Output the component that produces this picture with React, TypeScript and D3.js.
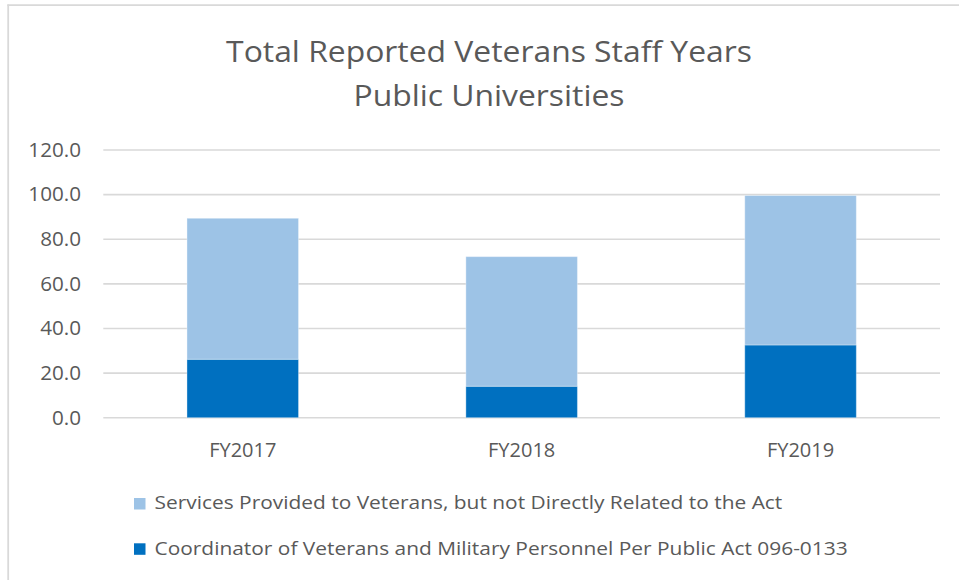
import React from "react";
import * as d3 from "d3";

const categories = ["FY2017", "FY2018", "FY2019"];
const coordinatorValues = [26.2, 14.1, 32.6];
const servicesValues = [63.2, 58.1, 67.0];
const yTicks = [0, 20, 40, 60, 80, 100, 120];
const seriesNames = [
  "Coordinator of Veterans and Military Personnel Per Public Act 096-0133",
  "Services Provided to Veterans, but not Directly Related to the Act",
];
const titleLines = ["Total Reported Veterans Staff Years", "Public Universities"];

const W = 959;
const H = 580;
const colors = ["#0070C0", "#9DC3E6"];
const FONT = "'Open Sans', sans-serif";
const TEXT = "#595959";

export default function App() {
  const plotLeft = 103.3;
  const plotRight = 940;
  const x = d3.scaleBand<string>().domain(categories).range([plotLeft, plotRight]).paddingInner(0.6).paddingOuter(0.3);
  const y = d3.scaleLinear().domain([0, 120]).range([417.7, 150]);

  const rows = categories.map((c, i) => ({ cat: c, coord: coordinatorValues[i], serv: servicesValues[i] }));
  const stacked = d3.stack<any>().keys(["coord", "serv"])(rows);

  const legendOrder = [1, 0];

  return (
    <svg width={W} height={H} style={{ position: "absolute", left: 0, top: 0, background: "#fff" }}>
      <rect x={0} y={0} width={W} height={H} fill="#fff" />
      <line x1={8.2} x2={8.2} y1={4.5} y2={H} stroke="#d9d9d9" strokeWidth={1.8} />
      <line x1={7.3} x2={W} y1={5.2} y2={5.2} stroke="#d9d9d9" strokeWidth={1.8} />

      {titleLines.map((t, i) => (
        <text
          key={t}
          transform={`translate(489,${61.5 + i * 44.5}) scale(1.08,1)`}
          textAnchor="middle"
          fontFamily={FONT}
          fontSize={29.5}
          fill={TEXT}
        >
          {t}
        </text>
      ))}

      {yTicks.map((t) => (
        <g key={t}>
          <line x1={plotLeft} x2={plotRight} y1={y(t)} y2={y(t)} stroke="#d9d9d9" strokeWidth={1.6} />
          <text
            transform={`translate(81,${y(t) + 6.8}) scale(1.06,1)`}
            textAnchor="end"
            fontFamily={FONT}
            fontSize={19.5}
            fill={TEXT}
          >
            {t.toFixed(1)}
          </text>
        </g>
      ))}

      {stacked.map((s, si) => (
        <g key={si}>
          {s.map((d, i) => (
            <rect
              key={i}
              x={x(categories[i])!}
              width={x.bandwidth()}
              y={y(d[1])}
              height={y(d[0]) - y(d[1])}
              fill={colors[si]}
              stroke="#ffffff"
              strokeOpacity={0.35}
              strokeWidth={1}
            />
          ))}
        </g>
      ))}

      {categories.map((c) => (
        <text key={c} x={x(c)! + x.bandwidth() / 2} y={456.7} textAnchor="middle" fontFamily={FONT} fontSize={20} fill={TEXT}>
          {c}
        </text>
      ))}

      {legendOrder.map((si, k) => (
        <g key={si}>
          <rect x={134} y={498 + k * 45.3} width={11.5} height={11.5} fill={colors[si]} />
          <text
            transform={`translate(154.5,${509.3 + k * 45.5}) scale(1.1,1)`}
            fontFamily={FONT}
            fontSize={19}
            fill={TEXT}
          >
            {seriesNames[si]}
          </text>
        </g>
      ))}
    </svg>
  );
}
